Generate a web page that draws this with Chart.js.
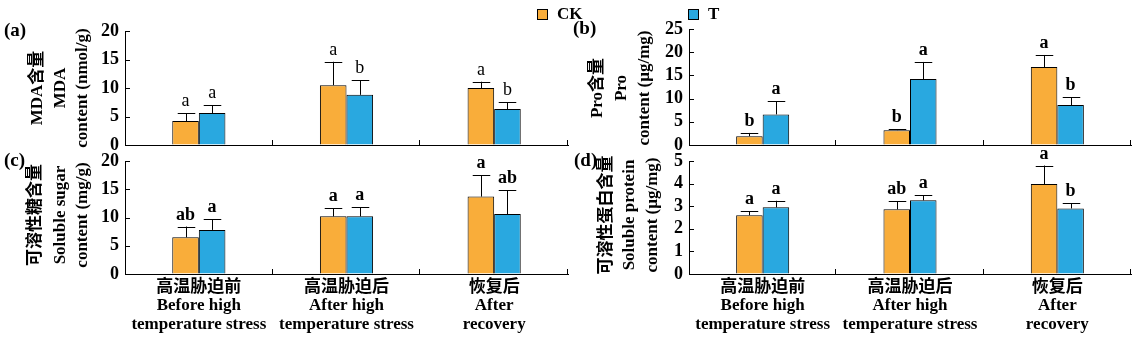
<!DOCTYPE html>
<html>
<head>
<meta charset="utf-8">
<script src="https://cdn.jsdelivr.net/npm/chart.js@4.4.1/dist/chart.umd.min.js"></script>
<style>
  body { margin: 0; background: #fff; }
  #wrap { position: relative; width: 1136px; height: 342px; }
  #wrap canvas { position: absolute; left: 0; top: 0; }
</style>
</head>
<body>
<div id="wrap">
  <canvas id="mdaChart" width="1136" height="342"></canvas>
  <canvas id="proChart" width="1136" height="342"></canvas>
  <canvas id="sugarChart" width="1136" height="342"></canvas>
  <canvas id="proteinChart" width="1136" height="342"></canvas>
</div>
<script>
// stages (x categories)
const stages = [
    ["高温胁迫前", "Before high", "temperature stress"],
    ["高温胁迫后", "After high", "temperature stress"],
    ["恢复后", "After", "recovery"]
];
const groups = ["CK", "T"];

// MDA (nmol/g)
const mdaCK = [4.2, 10.5, 10.0];
const mdaCKErr = [1.4, 4.1, 1.1];
const mdaT = [5.6, 8.8, 6.3];
const mdaTErr = [1.4, 2.6, 1.2];
const mdaCKSig = ["a", "a", "a"];
const mdaTSig = ["a", "b", "b"];

// Pro (ug/mg)
const proCK = [1.9, 3.2, 16.8];
const proCKErr = [0.7, 0.2, 2.6];
const proT = [6.6, 14.2, 8.6];
const proTErr = [2.8, 3.7, 1.7];
const proCKSig = ["b", "b", "a"];
const proTSig = ["a", "a", "b"];

// soluble sugar (mg/g)
const sugarCK = [6.5, 10.2, 13.7];
const sugarCKErr = [1.9, 1.4, 3.8];
const sugarT = [7.8, 10.2, 10.6];
const sugarTErr = [1.9, 1.6, 4.2];
const sugarCKSig = ["ab", "a", "a"];
const sugarTSig = ["a", "a", "ab"];

// soluble protein (ug/mg)
const proteinCK = [2.6, 2.86, 3.98];
const proteinCKErr = [0.18, 0.35, 0.82];
const proteinT = [2.95, 3.26, 2.9];
const proteinTErr = [0.29, 0.22, 0.23];
const proteinCKSig = ["a", "ab", "a"];
const proteinTSig = ["a", "a", "b"];

const colors = ["#F9AD3A", "#29A8E0"];
const SERIF = "'Liberation Serif', 'Noto Sans CJK SC', serif";

/* -------------------------------
   error bars, letters, inward ticks, titles
---------------------------------*/
const decor = {
    id: "decor",
    afterDraw(chart, args, opts) {
        const ctx = chart.ctx;
        const xs = chart.scales.x;
        const ys = chart.scales.y;
        const area = chart.chartArea;
        ctx.save();
        ctx.strokeStyle = "#000";
        ctx.lineWidth = 1;

        // inward y ticks
        ys.ticks.forEach((t, i) => {
            const py = Math.round(ys.getPixelForTick(i)) + 0.5;
            ctx.beginPath();
            ctx.moveTo(area.left, py);
            ctx.lineTo(area.left + 5, py);
            ctx.stroke();
        });

        // inward category dividers
        const step = xs.width / chart.data.labels.length;
        for (let i = 1; i <= chart.data.labels.length; i++) {
            const px = Math.round(area.left + step * i) - 0.5;
            ctx.beginPath();
            ctx.moveTo(px, area.bottom);
            ctx.lineTo(px, area.bottom - 5);
            ctx.stroke();
        }

        // error bars and significance letters
        ctx.fillStyle = "#000";
        ctx.textAlign = "center";
        ctx.textBaseline = "alphabetic";
        ctx.font = (opts.boldLetters ? "bold " : "") + "18px " + SERIF;
        chart.data.datasets.forEach((ds, d) => {
            const meta = chart.getDatasetMeta(d);
            meta.data.forEach((bar, i) => {
                const top = ys.getPixelForValue(ds.data[i] + ds.err[i]);
                const cx = Math.round(bar.x) + 0.5;
                const cap = bar.width * 0.33;
                ctx.beginPath();
                ctx.moveTo(cx, bar.y);
                ctx.lineTo(cx, top);
                ctx.moveTo(cx - cap, Math.round(top) + 0.5);
                ctx.lineTo(cx + cap, Math.round(top) + 0.5);
                ctx.stroke();
                ctx.fillText(ds.sig[i], bar.x, top - 7);
            });
        });

        // y axis title lines
        ctx.font = "bold 17px " + SERIF;
        ctx.textBaseline = "middle";
        opts.title.forEach((line, k) => {
            ctx.save();
            ctx.translate(opts.titleX[k], opts.titleY);
            ctx.rotate(-Math.PI / 2);
            ctx.fillText(line, 0, 0);
            ctx.restore();
        });

        // panel tag
        ctx.font = "bold 19px " + SERIF;
        ctx.textAlign = "left";
        ctx.textBaseline = "alphabetic";
        ctx.fillText(opts.tag, opts.tagX, opts.tagY);

        // legend
        if (opts.legend) {
            chart.data.datasets.forEach((ds, d) => {
                const lx = opts.legend[d];
                ctx.fillStyle = ds.backgroundColor;
                ctx.fillRect(lx, 9, 10, 10);
                ctx.strokeRect(lx + 0.5, 9.5, 10, 10);
                ctx.fillStyle = "#000";
                ctx.font = "bold 17px " + SERIF;
                ctx.fillText(ds.label, lx + 20, 19);
            });
        }
        ctx.restore();
    }
};

function buildPanel(id, p) {
    const makeSet = (k, vals, err, sig) => ({
        label: groups[k],
        data: vals,
        err: err,
        sig: sig,
        backgroundColor: colors[k],
        borderColor: "#000",
        borderWidth: 1,
        borderSkipped: "bottom",
        categoryPercentage: 0.36,
        barPercentage: 1.0
    });

    return new Chart(document.getElementById(id), {
        type: "bar",
        data: {
            labels: stages,
            datasets: [
                makeSet(0, p.ck, p.ckErr, p.ckSig),
                makeSet(1, p.t, p.tErr, p.tSig)
            ]
        },
        options: {
            responsive: false,
            animation: false,
            events: [],
            layout: { padding: p.pad },
            plugins: {
                legend: { display: false },
                tooltip: { enabled: false },
                decor: p.decor
            },
            scales: {
                x: {
                    grid: { drawOnChartArea: false, drawTicks: false },
                    border: { color: "#000", width: 1 },
                    ticks: {
                        display: p.showX,
                        color: "#000",
                        padding: 4,
                        maxRotation: 0,
                        autoSkip: false,
                        font: { family: SERIF, size: 17, weight: "bold", lineHeight: 1.1 }
                    },
                    afterFit: s => { s.height = p.xHeight; }
                },
                y: {
                    min: 0,
                    max: p.max,
                    grid: { drawOnChartArea: false, drawTicks: false },
                    border: { color: "#000", width: 1 },
                    ticks: {
                        stepSize: p.step,
                        autoSkip: false,
                        color: "#000",
                        padding: 6,
                        font: { family: SERIF, size: 18, weight: "bold" }
                    },
                    afterFit: s => { s.width = p.yWidth; }
                }
            }
        },
        plugins: [decor]
    });
}

buildPanel("mdaChart", {
    ck: mdaCK, ckErr: mdaCKErr, ckSig: mdaCKSig,
    t: mdaT, tErr: mdaTErr, tSig: mdaTSig,
    max: 20, step: 5, showX: false,
    pad: { left: 0, top: 31, right: 568, bottom: 197 },
    yWidth: 125, xHeight: 0,
    decor: {
        boldLetters: false,
        title: ["MDA含量", "MDA", "content (nmol/g)"],
        titleX: [38, 61, 83], titleY: 88,
        tag: "(a)", tagX: 4, tagY: 36,
        legend: [537, 688]
    }
});

buildPanel("proChart", {
    ck: proCK, ckErr: proCKErr, ckSig: proCKSig,
    t: proT, tErr: proTErr, tSig: proTSig,
    max: 25, step: 5, showX: false,
    pad: { left: 570, top: 29, right: 5, bottom: 197 },
    yWidth: 119, xHeight: 0,
    decor: {
        boldLetters: true,
        title: ["Pro含量", "Pro", "content (μg/mg)"],
        titleX: [598, 622, 645], titleY: 88,
        tag: "(b)", tagX: 573, tagY: 34
    }
});

buildPanel("sugarChart", {
    ck: sugarCK, ckErr: sugarCKErr, ckSig: sugarCKSig,
    t: sugarT, tErr: sugarTErr, tSig: sugarTSig,
    max: 20, step: 5, showX: true,
    pad: { left: 0, top: 161, right: 568, bottom: 0 },
    yWidth: 125, xHeight: 68,
    decor: {
        boldLetters: true,
        title: ["可溶性糖含量", "Soluble sugar", "content (mg/g)"],
        titleX: [36, 61, 83], titleY: 215,
        tag: "(c)", tagX: 4, tagY: 166
    }
});

buildPanel("proteinChart", {
    ck: proteinCK, ckErr: proteinCKErr, ckSig: proteinCKSig,
    t: proteinT, tErr: proteinTErr, tSig: proteinTSig,
    max: 5, step: 1, showX: true,
    pad: { left: 570, top: 161, right: 5, bottom: 0 },
    yWidth: 119, xHeight: 68,
    decor: {
        boldLetters: true,
        title: ["可溶性蛋白含量", "Soluble protein", "content (μg/mg)"],
        titleX: [607, 630, 653], titleY: 215,
        tag: "(d)", tagX: 574, tagY: 166
    }
});
</script>
</body>
</html>
